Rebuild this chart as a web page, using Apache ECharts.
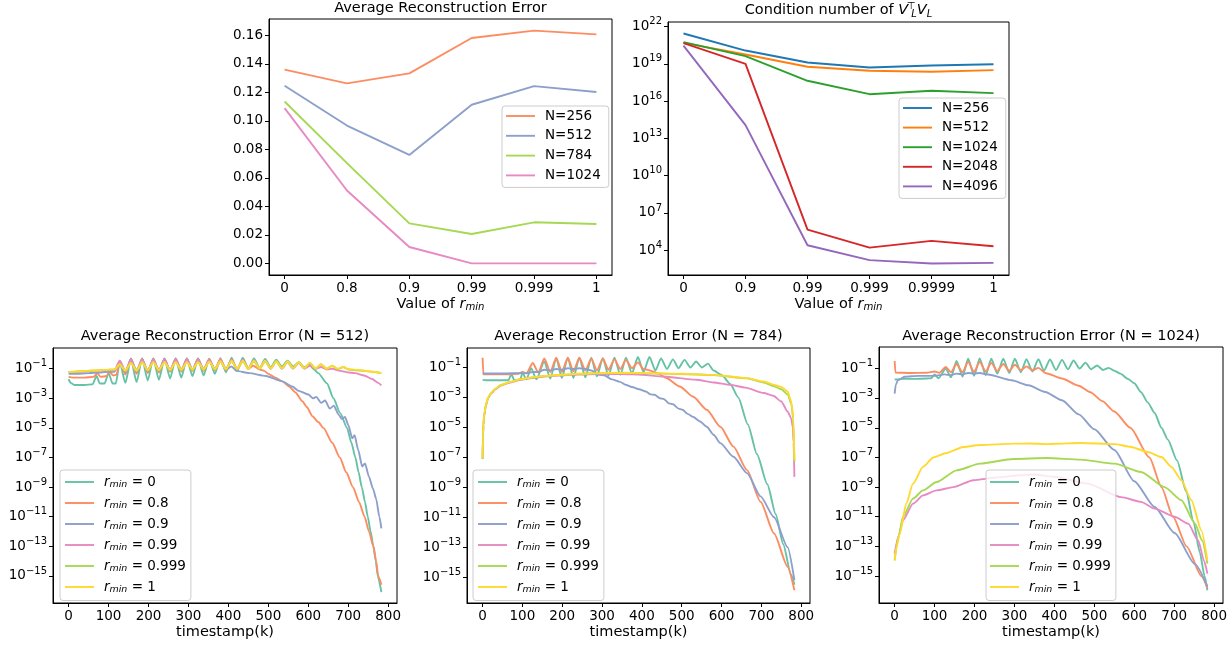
<!DOCTYPE html>
<html><head><meta charset="utf-8">
<script src="https://cdn.jsdelivr.net/npm/echarts@6/dist/echarts.min.js"></script>
<style>html,body{margin:0;padding:0;background:#fff}#c{width:1231px;height:645px}</style>
</head><body><div id="c"></div>
<script>
// ---------------- DATA ----------------
const errCategories = ['0','0.8','0.9','0.99','0.999','1'];
const errN256  = [0.1359,0.1263,0.1333,0.1581,0.1633,0.1607];
const errN512  = [0.1246,0.0967,0.0761,0.1113,0.1244,0.1202];
const errN784  = [0.1136,0.0703,0.0281,0.0206,0.0288,0.0276];
const errN1024 = [0.1089,0.0511,0.0115,0.0,0.0,0.0];
const errTicks = [0,0.02,0.04,0.06,0.08,0.10,0.12,0.14,0.16];

const condCategories = ['0','0.9','0.99','0.999','0.9999','1'];
const condN256  = [2.75e21,1.17e20,1.29e19,5.0e18,7.4e18,9.3e18];
const condN512  = [4.9e20,5.6e19,5.75e18,2.75e18,2.3e18,3.1e18];
const condN1024 = [5.5e20,4.2e19,4.3e17,3.6e16,6.8e16,4.4e16];
const condN2048 = [4.6e20,1.0e19,4.6e5,1.6e4,5.6e4,2.1e4];
const condN4096 = [2.95e20,1.17e14,2.5e4,1.6e3,850,950];
const condTickExponents = [4,7,10,13,16,19,22];

const rminLabels = ['0','0.8','0.9','0.99','0.999','1'];
const timestampTicks = [0,100,200,300,400,500,600,700,800];
const errTickExponents = [-15,-13,-11,-9,-7,-5,-3,-1];

// N = 512
const n512_r0 = [[0,2e-2],[5,1.1e-2],[15,7.9e-3],[40,7.9e-3],[60,8.9e-3],[70,3.2e-2],[78,1e-2],[90,1e-2],[100,5e-2],[110,1e-2],[118,1e-2],[128,2.8e-1],[142,1.1e-2],[156,4.5e-1],[170,1.26e-2],[184,5e-1],[198,1.6e-2],[212,5e-1],[226,1.8e-2],[240,5e-1],[254,2.2e-2],[268,5e-1],[282,2.5e-2],[296,5e-1],[310,3.2e-2],[324,5e-1],[338,3.5e-2],[352,4.8e-1],[366,4.5e-2],[380,5.2e-1],[394,5.6e-2],[408,5.6e-1],[422,7.1e-2],[436,5.6e-1],[450,1e-1],[464,5e-1],[478,1.1e-1],[492,4.5e-1],[506,1.26e-1],[520,4e-1],[534,1.4e-1],[548,3.5e-1],[562,1.4e-1],[576,2.8e-1],[590,1.26e-1],[604,1.8e-1],[612,1e-1],[625,5e-2],[647,1e-2],[663,1e-3],[680,1e-4],[697,1e-5],[708,1e-6],[718,1e-7],[726,1e-8],[734,1e-9],[742,1e-10],[749,1e-11],[756,1e-12],[763,1e-13],[769,1e-14],[774,1e-15],[783,8e-17]];
const n512_r08 = [[0,2.8e-2],[10,2.5e-2],[40,2.5e-2],[62,2.8e-2],[72,5e-2],[80,2.8e-2],[95,3.2e-2],[102,6.3e-2],[112,3.5e-2],[120,4e-2],[128,3.2e-1],[142,4e-2],[156,5e-1],[170,4.5e-2],[184,5e-1],[198,5e-2],[212,5e-1],[226,5.6e-2],[240,5e-1],[254,6.3e-2],[268,5e-1],[282,6.3e-2],[296,5e-1],[310,7.1e-2],[324,5e-1],[338,7.1e-2],[352,4.5e-1],[366,7.9e-2],[380,4.5e-1],[394,7.9e-2],[408,4e-1],[422,8.9e-2],[436,3.5e-1],[450,1e-1],[462,1.6e-1],[478,8.9e-2],[490,7.1e-2],[500,4.5e-2],[518,2.5e-2],[535,1.4e-2],[552,6.3e-3],[568,2.5e-3],[585,6.3e-4],[597,2.5e-4],[610,6.3e-5],[625,2.5e-5],[638,1e-5],[660,1e-6],[679,1e-7],[695,1e-8],[712,1e-9],[727,1e-10],[741,1e-11],[752,1e-12],[763,1e-13],[770,1e-14],[775,1e-15],[783,2.5e-16]];
const n512_r09 = [[0,4.5e-2],[20,4.5e-2],[50,5e-2],[80,5.6e-2],[100,6.3e-2],[115,6.3e-2],[128,3.5e-1],[142,5.6e-2],[156,4.5e-1],[170,6.3e-2],[184,4.5e-1],[198,6.3e-2],[212,4.5e-1],[226,7.1e-2],[240,4.5e-1],[254,7.1e-2],[268,4.5e-1],[282,7.9e-2],[296,4.5e-1],[310,7.9e-2],[324,4.5e-1],[338,8.9e-2],[352,4e-1],[366,8.9e-2],[380,3.2e-1],[394,8.9e-2],[408,1.4e-1],[420,7.1e-2],[452,5e-2],[494,3.2e-2],[535,1.4e-2],[560,6.3e-3],[576,3.2e-3],[600,1.8e-3],[612,1e-3],[620,1.26e-3],[632,5e-4],[642,7.1e-4],[654,2e-4],[664,3.2e-4],[676,7.9e-5],[684,4e-5],[692,5.6e-5],[700,1.6e-5],[710,2e-6],[716,3.2e-6],[725,3.2e-7],[735,2.5e-8],[742,4e-8],[752,5e-9],[762,7.9e-10],[770,1.6e-10],[778,1e-11],[783,1.6e-12]];
const n512_r099 = [[0,6e-2],[30,6.3e-2],[60,7.1e-2],[90,7.9e-2],[115,7.9e-2],[128,3.5e-1],[142,7.1e-2],[156,4e-1],[170,7.9e-2],[184,4e-1],[198,7.9e-2],[212,4e-1],[226,8.4e-2],[240,4e-1],[254,8.4e-2],[268,4e-1],[282,8.9e-2],[296,4e-1],[310,8.9e-2],[324,4e-1],[338,9.4e-2],[352,4e-1],[366,9.4e-2],[380,4e-1],[394,1e-1],[408,4e-1],[422,1e-1],[436,4e-1],[450,1e-1],[464,3.8e-1],[478,1e-1],[492,3.5e-1],[506,1e-1],[520,3.2e-1],[534,1e-1],[548,2.8e-1],[562,1e-1],[576,2.5e-1],[590,1e-1],[604,1.6e-1],[618,1e-1],[632,1.3e-1],[646,8.9e-2],[660,1e-1],[680,7.1e-2],[700,5.6e-2],[717,5e-2],[740,3.5e-2],[760,2e-2],[775,1.1e-2],[783,7.4e-3]];
const n512_r0999 = [[0,5.8e-2],[30,6.6e-2],[60,7.3e-2],[90,8.2e-2],[115,8.7e-2],[128,2e-1],[142,7.1e-2],[156,2.5e-1],[170,7.1e-2],[184,2.8e-1],[198,7.5e-2],[212,2.8e-1],[226,7.9e-2],[240,2.8e-1],[254,7.9e-2],[268,2.8e-1],[282,8.4e-2],[296,2.8e-1],[310,8.4e-2],[324,2.8e-1],[338,8.9e-2],[352,3e-1],[366,8.9e-2],[380,3.2e-1],[394,9.4e-2],[408,3.2e-1],[422,9.4e-2],[436,3.2e-1],[450,1e-1],[464,3.2e-1],[478,1e-1],[492,3.2e-1],[506,1.05e-1],[520,3.2e-1],[534,1.05e-1],[548,3e-1],[562,1.05e-1],[576,2.8e-1],[590,1.05e-1],[604,2.5e-1],[618,1e-1],[632,2e-1],[646,1e-1],[660,1.6e-1],[674,9.4e-2],[688,1.3e-1],[700,8.9e-2],[730,7.5e-2],[760,6.3e-2],[783,5e-2]];
const n512_r1 = [[0,6e-2],[30,6.8e-2],[60,7.5e-2],[90,8.4e-2],[115,8.9e-2],[128,2e-1],[142,7.5e-2],[156,2.5e-1],[170,7.5e-2],[184,2.8e-1],[198,7.9e-2],[212,2.8e-1],[226,7.9e-2],[240,2.8e-1],[254,8.4e-2],[268,2.8e-1],[282,8.4e-2],[296,2.8e-1],[310,8.9e-2],[324,2.8e-1],[338,8.9e-2],[352,3e-1],[366,9.4e-2],[380,3.2e-1],[394,9.4e-2],[408,3.5e-1],[422,1e-1],[436,3.5e-1],[450,1e-1],[464,3.5e-1],[478,1.05e-1],[492,3.5e-1],[506,1.05e-1],[520,3.2e-1],[534,1.1e-1],[548,3.2e-1],[562,1.1e-1],[576,2.8e-1],[590,1.1e-1],[604,2.5e-1],[618,1.05e-1],[632,2e-1],[646,1e-1],[660,1.6e-1],[674,1e-1],[688,1.3e-1],[700,9.4e-2],[730,7.9e-2],[760,6.3e-2],[783,5.1e-2]];

// N = 784
const n784_r0 = [[0,1.5e-2],[10,1.4e-2],[40,1.4e-2],[65,1.4e-2],[72,3.5e-2],[80,1.4e-2],[95,1.6e-2],[100,4.5e-2],[110,1.6e-2],[122,9e-2],[135,1.6e-2],[155,2.5e-1],[170,1.8e-2],[185,4.2e-1],[199,2e-2],[214,4.5e-1],[228,2e-2],[243,4.5e-1],[258,2.2e-2],[273,4.5e-1],[287,2.5e-2],[302,4.2e-1],[316,2.8e-2],[331,4.5e-1],[346,3.2e-2],[360,4.5e-1],[375,4e-2],[390,5e-1],[404,5e-2],[419,5e-1],[434,6.3e-2],[448,4e-1],[463,7.9e-2],[478,3.5e-1],[492,8.9e-2],[507,3.2e-1],[522,1e-1],[536,2.5e-1],[551,1e-1],[566,1.8e-1],[580,6.3e-2],[600,3.2e-2],[622,7.9e-3],[642,1e-3],[666,1.6e-5],[689,1.6e-7],[715,1.6e-9],[736,1.6e-11],[755,1.6e-13],[774,1.6e-15],[783,3.2e-16]];
const n784_r08 = [[0,4.5e-1],[2,3.5e-2],[20,3.5e-2],[60,3.5e-2],[90,3.8e-2],[100,5e-2],[110,4e-2],[126,2e-1],[140,4.5e-2],[155,4e-1],[170,5e-2],[185,4.5e-1],[199,5e-2],[214,4.5e-1],[228,5.6e-2],[243,4.5e-1],[258,6.3e-2],[273,4e-1],[287,6.3e-2],[302,4e-1],[316,7.1e-2],[331,3.5e-1],[346,7.9e-2],[360,3.2e-1],[375,8.9e-2],[390,2.2e-1],[404,8e-2],[420,6.3e-2],[440,4e-2],[461,2e-2],[495,5.4e-3],[529,1.1e-3],[563,1.5e-4],[597,1.1e-5],[630,5.2e-7],[664,1.4e-8],[698,1.1e-10],[732,8.3e-13],[766,5e-15],[783,1.35e-16]];
const n784_r09 = [[0,4e-2],[30,4e-2],[60,4e-2],[90,4.2e-2],[110,4.2e-2],[126,5e-2],[140,5e-2],[155,7.1e-2],[170,6.3e-2],[185,8e-2],[199,7.1e-2],[214,8.9e-2],[228,7.9e-2],[243,8.9e-2],[258,7.9e-2],[273,6.3e-2],[292,3.2e-2],[305,3e-2],[325,1.6e-2],[345,1.1e-2],[359,7.1e-3],[375,5e-3],[393,3.5e-3],[410,2.5e-3],[422,1.6e-3],[432,1.5e-3],[445,8.9e-4],[455,7.9e-4],[468,4e-4],[478,3.5e-4],[492,1.8e-4],[502,1.5e-4],[515,8e-5],[529,5e-5],[546,2.5e-5],[563,1.1e-5],[580,3.2e-6],[597,8.9e-7],[630,1.1e-7],[664,8.9e-9],[698,2.5e-10],[732,1e-11],[766,1e-13],[783,6.3e-16]];
const n784_r099 = [[0,7.9e-8],[1,2.8e-6],[2,1.4e-5],[4,5.6e-5],[8,2.8e-4],[14,9e-4],[21,1.8e-3],[33,3.6e-3],[46,6.3e-3],[70,1e-2],[96,1.5e-2],[125,2e-2],[156,2.5e-2],[200,3e-2],[241,3.4e-2],[292,3.6e-2],[350,3.6e-2],[400,3.3e-2],[453,2.5e-2],[537,1.5e-2],[580,1e-2],[622,6.9e-3],[660,4.5e-3],[706,2e-3],[730,1.3e-3],[750,5.4e-4],[766,1.15e-4],[775,4e-5],[779,1e-5],[781,1e-6],[783,5e-9]];
const n784_r0999 = [[0,8e-8],[1,3e-6],[2,1.5e-5],[4,6e-5],[8,3e-4],[14,9.5e-4],[21,1.9e-3],[33,3.9e-3],[46,6.7e-3],[70,1.07e-2],[96,1.62e-2],[125,2.15e-2],[156,2.7e-2],[200,3.25e-2],[241,3.75e-2],[292,4.1e-2],[350,4.3e-2],[410,4.1e-2],[500,3.7e-2],[580,3.1e-2],[664,1.9e-2],[706,1e-2],[732,5.6e-3],[750,3.5e-3],[766,1.6e-3],[775,4e-4],[780,4e-5],[783,5e-8]];
const n784_r1 = [[0,8.7e-8],[1,3.2e-6],[2,1.6e-5],[4,6.3e-5],[8,3.2e-4],[14,1e-3],[21,2e-3],[33,4e-3],[46,6.9e-3],[70,1.1e-2],[96,1.66e-2],[125,2.2e-2],[156,2.75e-2],[200,3.3e-2],[241,3.8e-2],[292,4.2e-2],[350,4.4e-2],[410,4.2e-2],[500,3.8e-2],[580,3.2e-2],[664,1.95e-2],[706,1.15e-2],[732,6.9e-3],[750,5e-3],[766,2.5e-3],[775,5.4e-4],[780,5e-5],[783,6.8e-8]];

// N = 1024
const n1024_r0 = [[0,1.8e-2],[20,2e-2],[50,2e-2],[80,2.1e-2],[92,2.2e-2],[100,4e-2],[110,2.2e-2],[128,1e-1],[141,2.5e-2],[155,3.2e-1],[170,2.8e-2],[184,4.5e-1],[199,3.2e-2],[213,4.8e-1],[228,3.5e-2],[242,4.5e-1],[257,4.5e-2],[272,4.5e-1],[287,5e-2],[301,4.5e-1],[316,5.6e-2],[330,4.2e-1],[345,6.3e-2],[360,4.2e-1],[374,7.1e-2],[389,4e-1],[404,7.9e-2],[419,3.8e-1],[434,8.9e-2],[448,3.5e-1],[463,1e-1],[478,2.5e-1],[492,8.9e-2],[507,1.6e-1],[522,7.9e-2],[536,1.1e-1],[550,7.1e-2],[565,4.5e-2],[584,2e-2],[600,1e-2],[617,2.5e-3],[634,5e-4],[651,1e-4],[668,1e-5],[684,1.6e-6],[707,6.3e-8],[730,5e-10],[748,5e-12],[764,4e-14],[776,1e-15],[783,1.1e-16]];
const n1024_r08 = [[0,3.2e-1],[2,5.4e-2],[40,5e-2],[80,5.2e-2],[100,6.3e-2],[112,5.2e-2],[128,1.26e-1],[141,5.6e-2],[155,2e-1],[170,5.6e-2],[184,2.8e-1],[199,6e-2],[213,2.8e-1],[228,6.3e-2],[242,2.4e-1],[257,6.6e-2],[272,2e-1],[287,7.1e-2],[301,1.8e-1],[316,7.6e-2],[330,1.4e-1],[345,7.6e-2],[360,1.1e-1],[377,5e-2],[419,2.1e-2],[461,6.8e-3],[490,2.5e-3],[520,6.3e-4],[550,1.26e-4],[590,1e-5],[638,1e-7],[668,1e-9],[697,1e-11],[731,1e-13],[768,1e-15],[783,1.6e-16]];
const n1024_r09 = [[0,2e-3],[3,8e-3],[8,1.6e-2],[25,2.75e-2],[60,3.2e-2],[100,3.2e-2],[125,4e-2],[140,3.5e-2],[155,4.5e-2],[170,4e-2],[184,5e-2],[199,4.5e-2],[213,5e-2],[234,3.9e-2],[293,1.6e-2],[335,7.4e-3],[377,2.6e-3],[419,7.2e-4],[461,8e-5],[500,7.9e-6],[550,3.2e-7],[600,2.5e-9],[651,4.5e-11],[701,7.9e-13],[752,6.3e-15],[783,2e-16]];
const n1024_r099 = [[0,3.2e-14],[10,5e-13],[21,5.8e-12],[46,7.6e-11],[71,2.75e-10],[105,6e-10],[147,1e-9],[197,2.9e-9],[256,4.4e-9],[315,6.3e-9],[350,7.1e-9],[399,5e-9],[483,1.7e-9],[567,2.1e-10],[617,1e-10],[651,3.5e-11],[701,1e-11],[735,3.4e-12],[760,2.5e-13],[775,1e-14],[783,1.45e-15]];
const n1024_r0999 = [[0,1.15e-14],[10,5e-13],[21,1e-11],[46,1.66e-10],[71,6e-10],[105,2.2e-9],[155,1.35e-8],[214,3.8e-8],[298,7.9e-8],[382,9.1e-8],[466,7.1e-8],[550,3.8e-8],[617,1.05e-8],[676,1e-9],[718,1.3e-10],[752,3.4e-12],[770,2.5e-13],[783,6.8e-15]];
const n1024_r1 = [[0,1.15e-14],[5,1e-13],[13,7.2e-13],[29,7.6e-11],[46,1.7e-9],[71,2.3e-8],[97,1e-7],[130,2e-7],[172,5.1e-7],[214,6.9e-7],[298,8.5e-7],[340,8.7e-7],[382,7.9e-7],[400,8.3e-7],[466,9.5e-7],[550,7.9e-7],[592,5.1e-7],[634,2.3e-7],[668,1.07e-7],[693,2.3e-8],[718,2.9e-9],[743,1.3e-10],[768,1.2e-12],[783,1.15e-14]];

// ---------------- STYLE / BUILD ----------------
const FONT = 'DejaVu Sans';
const TICK_FS = 13.5, TITLE_FS = 14.5, NAME_FS = 14.5, LEG_FS = 13.5;
const set2 = ['#66c2a5','#fc8d62','#8da0cb','#e78ac3','#a6d854','#ffd92f'];
const tab10 = ['#1f77b4','#ff7f0e','#2ca02c','#d62728','#9467bd'];

const supRich = {
  b:{fontFamily:FONT,fontSize:TICK_FS,color:'#000',lineHeight:20,verticalAlign:'middle'},
  s:{fontFamily:FONT,fontSize:10,color:'#000',lineHeight:10,verticalAlign:'top'}
};
function subRichOf(fs){
  return {
    i:{fontFamily:FONT,fontSize:fs,fontStyle:'italic',color:'#000',lineHeight:15},
    sb:{fontFamily:FONT,fontSize:fs*0.7,fontStyle:'italic',color:'#000',lineHeight:4,verticalAlign:'bottom'}
  };
}
function powLabel(e){ return '{b|10}{s|' + (e < 0 ? '\u2212' + (-e) : String(e)) + '}'; }

const grids = [
  {left:269, top:19, width:343, height:256},
  {left:668, top:22, width:341, height:253},
  {left:53,  top:348, width:344, height:255},
  {left:467, top:348, width:343, height:255},
  {left:879, top:347, width:344, height:256}
].map(g => Object.assign({show:true, borderColor:'#000', borderWidth:1, containLabel:false, outerBoundsMode:'none'}, g));

function xAx(gi, min, max, ticks, fmt, name){
  return {type:'value', gridIndex:gi, min, max,
    axisLine:{show:true, onZero:false, lineStyle:{color:'#000', width:1}},
    axisTick:{show:true, inside:false, length:4, customValues:ticks, lineStyle:{color:'#000', width:1}},
    axisLabel:{show:true, customValues:ticks, formatter:fmt, color:'#000', fontFamily:FONT, fontSize:TICK_FS, margin:6},
    splitLine:{show:false},
    name, nameLocation:'middle', nameGap:22,
    nameTextStyle:{color:'#000', fontFamily:FONT, fontSize:NAME_FS, lineHeight:15, rich:subRichOf(NAME_FS)}};
}
function yLin(gi, min, max, ticks, fmt, rich){
  return {type:'value', gridIndex:gi, min, max, position:'left',
    axisLine:{show:true, onZero:false, lineStyle:{color:'#000', width:1}},
    axisTick:{show:true, inside:false, length:4, customValues:ticks, lineStyle:{color:'#000', width:1}},
    axisLabel:{show:true, customValues:ticks, formatter:fmt, color:'#000', fontFamily:FONT, fontSize:TICK_FS, margin:6, rich:rich},
    splitLine:{show:false}};
}
function yLogHidden(gi, expMin, expMax){
  return {type:'log', logBase:10, gridIndex:gi, position:'left', show:false,
    min:Math.pow(10, expMin), max:Math.pow(10, expMax),
    axisLine:{show:false}, axisTick:{show:false}, axisLabel:{show:false}, splitLine:{show:false}};
}

const xAxes = [
  xAx(0, -0.25, 5.25, [0,1,2,3,4,5], v => errCategories[Math.round(v)], 'Value of {i|r}{sb|min}'),
  xAx(1, -0.25, 5.25, [0,1,2,3,4,5], v => condCategories[Math.round(v)], 'Value of {i|r}{sb|min}'),
  xAx(2, -39.15, 822.15, timestampTicks, v => String(v), 'timestamp(k)'),
  xAx(3, -39.15, 822.15, timestampTicks, v => String(v), 'timestamp(k)'),
  xAx(4, -39.15, 822.15, timestampTicks, v => String(v), 'timestamp(k)')
];
const yAxes = [
  yLin(0, -0.008165, 0.171465, errTicks, v => v.toFixed(2)),
  yLogHidden(1, 2.0045, 22.3655),
  yLin(1, 2.0045, 22.3655, condTickExponents, powLabel, supRich),
  yLogHidden(2, -16.83, 0.40),
  yLin(2, -16.83, 0.40, errTickExponents, powLabel, supRich),
  yLogHidden(3, -16.72, 0.30),
  yLin(3, -16.72, 0.30, errTickExponents, powLabel, supRich),
  yLogHidden(4, -16.82, 0.45),
  yLin(4, -16.82, 0.45, errTickExponents, powLabel, supRich)
];

function ser(name, data, color, xi, yi, smooth){
  return {type:'line', name, data, xAxisIndex:xi, yAxisIndex:yi, symbol:'none', showSymbol:false,
    lineStyle:{color, width:1.9}, itemStyle:{color}, smooth:smooth ? 0.22 : false, smoothMonotone:'x',
    animation:false, silent:true, emphasis:{disabled:true}, clip:true};
}
const idx = a => a.map((v,i) => [i, v]);

const series = [];
[['N=256',errN256,set2[1]],['N=512',errN512,set2[2]],['N=784',errN784,set2[4]],['N=1024',errN1024,set2[3]]]
  .forEach(([n,d,c]) => series.push(ser('a|'+n, idx(d), c, 0, 0, false)));
[['N=256',condN256],['N=512',condN512],['N=1024',condN1024],['N=2048',condN2048],['N=4096',condN4096]]
  .forEach(([n,d],k) => series.push(ser('b|'+n, idx(d), tab10[k], 1, 1, false)));
const bottomSets = [
  ['c', [n512_r0,n512_r08,n512_r09,n512_r099,n512_r0999,n512_r1], 2, 3],
  ['d', [n784_r0,n784_r08,n784_r09,n784_r099,n784_r0999,n784_r1], 3, 5],
  ['e', [n1024_r0,n1024_r08,n1024_r09,n1024_r099,n1024_r0999,n1024_r1], 4, 7]
];
bottomSets.forEach(([p, arrs, xi, yi]) => arrs.forEach((d,k) => series.push(ser(p+'|'+rminLabels[k], d, set2[k], xi, yi, true))));

function legendCfg(names, left, top, pad, gap, fmt){
  return {orient:'vertical', left, top, padding:pad, itemGap:gap, itemWidth:29, itemHeight:1.9, icon:'rect',
    selectedMode:false, backgroundColor:'rgba(255,255,255,0.8)', borderColor:'#cccccc', borderWidth:1, borderRadius:3,
    data:names, formatter:fmt,
    textStyle:{color:'#000', fontFamily:FONT, fontSize:LEG_FS, lineHeight:14, padding:[0,0,0,5], rich:subRichOf(LEG_FS)}};
}
const plain = n => n.split('|')[1];
const rminFmt = n => '{i|r}{sb|min} = ' + n.split('|')[1];
const legends = [
  legendCfg(['N=256','N=512','N=784','N=1024'].map(n=>'a|'+n), 502, 106, [3,8,5,4], 5.8, plain),
  legendCfg(['N=256','N=512','N=1024','N=2048','N=4096'].map(n=>'b|'+n), 899, 98, [3,8,5,4], 5.6, plain),
  legendCfg(rminLabels.map(n=>'c|'+n), 60, 470, [4.5,5,6,5], 6, rminFmt),
  legendCfg(rminLabels.map(n=>'d|'+n), 473, 470, [4.5,5,6,5], 6, rminFmt),
  legendCfg(rminLabels.map(n=>'e|'+n), 986, 470, [4.5,5,6,4], 6, rminFmt)
];

function titleText(x, y, text, rich){
  return {type:'text', x, y, silent:true, style:{text, fill:'#000', fontFamily:FONT, fontSize:TITLE_FS,
    align:'center', verticalAlign:'middle', textAlign:'center', textVerticalAlign:'middle', rich:rich}};
}
const titleRich = {
  i:{fontFamily:FONT,fontSize:TITLE_FS,fontStyle:'italic',fill:'#000',color:'#000',lineHeight:18,verticalAlign:'middle'},
  sp:{fontFamily:FONT,fontSize:10,fill:'#000',color:'#000',lineHeight:6,verticalAlign:'top',width:0,padding:[0,0,0,3]},
  sb:{fontFamily:FONT,fontSize:10,fontStyle:'italic',fill:'#000',color:'#000',lineHeight:4,verticalAlign:'bottom'}
};
const graphics = [
  titleText(440.5, 8.5, 'Average Reconstruction Error'),
  titleText(838.5, 10, 'Condition number of {i|V}{sp|\u22A4}{sb|L}{i|V}{sb|L}', titleRich),
  titleText(225, 336, 'Average Reconstruction Error (N = 512)'),
  titleText(638.5, 336, 'Average Reconstruction Error (N = 784)'),
  titleText(1051, 336, 'Average Reconstruction Error (N = 1024)')
];

const chart = echarts.init(document.getElementById('c'), null, {renderer:'canvas', width:1231, height:645});
chart.setOption({
  backgroundColor:'#fff', animation:false,
  grid:grids, xAxis:xAxes, yAxis:yAxes, series, legend:legends, graphic:graphics,
  tooltip:{show:false}
});
</script></body></html>
